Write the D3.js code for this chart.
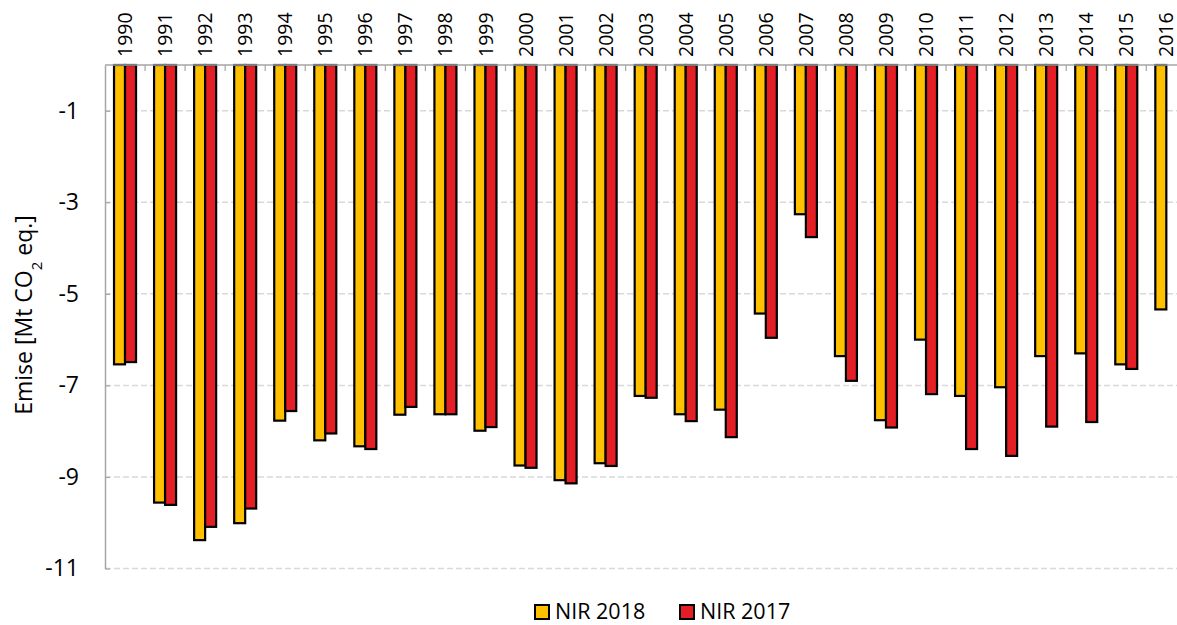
<!DOCTYPE html>
<html>
<head>
<meta charset="utf-8">
<script src="https://cdn.jsdelivr.net/npm/d3@7"></script>
<style>
  body { margin: 0; background: #fff; }
  svg { display: block; }
  text { font-family: "Open Sans", sans-serif; fill: #000; }
</style>
</head>
<body>
<svg id="chart" width="1177" height="625"></svg>
<script>
// Net emissions per year, two inventory submissions (Mt CO2 eq.)
const years = ["1990", "1991", "1992", "1993", "1994", "1995", "1996", "1997", "1998",
  "1999", "2000", "2001", "2002", "2003", "2004", "2005", "2006", "2007", "2008",
  "2009", "2010", "2011", "2012", "2013", "2014", "2015", "2016"];
const nir2018 = [-6.54, -9.56, -10.38, -10.01, -7.77, -8.20, -8.33, -7.64, -7.63,
  -7.99, -8.75, -9.07, -8.70, -7.23, -7.63, -7.53, -5.43, -3.26, -6.36,
  -7.76, -6.00, -7.23, -7.04, -6.36, -6.30, -6.54, -5.34];
const nir2017 = [-6.49, -9.61, -10.09, -9.69, -7.56, -8.05, -8.39, -7.47, -7.63,
  -7.91, -8.80, -9.14, -8.76, -7.27, -7.78, -8.13, -5.96, -3.76, -6.90,
  -7.92, -7.19, -8.39, -8.54, -7.90, -7.80, -6.64, null];
const seriesNames = ["NIR 2018", "NIR 2017"];
const seriesColors = ["#FFC000", "#E31E24"];
const yTicks = [-1, -3, -5, -7, -9, -11];

const svg = d3.select("#chart");
const W = 1177;
const left = 105, step = 40.05;

const x0 = d3.scaleBand()
  .domain(years)
  .range([left, left + step * years.length])
  .padding(0);
const barW = 11;
const x1 = d3.scaleBand()
  .domain(seriesNames)
  .range([x0.bandwidth() / 2 - barW, x0.bandwidth() / 2 + barW])
  .padding(0);
const y = d3.scaleLinear().domain([-11, 0]).range([568.5, 65]);
const color = d3.scaleOrdinal().domain(seriesNames).range(seriesColors);

// dashed horizontal gridlines
svg.append("g")
  .selectAll("line")
  .data(yTicks)
  .join("line")
  .attr("x1", left).attr("x2", W)
  .attr("y1", d => y(d)).attr("y2", d => y(d))
  .attr("stroke", "#d9d9d9")
  .attr("stroke-width", 1.5)
  .attr("stroke-dasharray", "6,3");

// value axis
const yAxis = svg.append("g")
  .attr("transform", `translate(${left},0)`)
  .call(d3.axisLeft(y).tickValues(yTicks).tickFormat(d => String(d))
    .tickSizeInner(-5).tickSizeOuter(0).tickPadding(26));
yAxis.select(".domain").attr("stroke", "#a6a6a6").attr("stroke-width", 1.5);
yAxis.selectAll(".tick line").attr("stroke", "#a6a6a6").attr("stroke-width", 1.2);
yAxis.selectAll(".tick text")
  .style("font-family", "'Open Sans', sans-serif")
  .style("font-size", "23px")
  .attr("fill", "#000");

// bars
const rows = years.map((yr, i) => ({ year: yr, values: [
  { key: seriesNames[0], value: nir2018[i] },
  { key: seriesNames[1], value: nir2017[i] }
].filter(v => v.value !== null) }));

svg.append("g")
  .selectAll("g")
  .data(rows)
  .join("g")
  .attr("transform", d => `translate(${x0(d.year)},0)`)
  .selectAll("rect")
  .data(d => d.values)
  .join("rect")
  .attr("x", d => x1(d.key))
  .attr("width", x1.bandwidth())
  .attr("y", y(0))
  .attr("height", d => y(d.value) - y(0))
  .attr("fill", d => color(d.key))
  .attr("stroke", "#000")
  .attr("stroke-width", 2.2);

// category axis along zero, ticks between groups
const catAxis = svg.append("g");
catAxis.append("line")
  .attr("x1", left).attr("x2", W)
  .attr("y1", y(0)).attr("y2", y(0))
  .attr("stroke", "#a6a6a6").attr("stroke-width", 1.5);
catAxis.selectAll("line.sep")
  .data(years.slice(1))
  .join("line")
  .attr("class", "sep")
  .attr("x1", d => x0(d)).attr("x2", d => x0(d))
  .attr("y1", y(0)).attr("y2", y(0) + 6)
  .attr("stroke", "#a6a6a6").attr("stroke-width", 1.2);
catAxis.selectAll("text")
  .data(years)
  .join("text")
  .attr("transform", d => `translate(${x0(d) + x0.bandwidth() / 2},${y(0) - 8}) rotate(-90)`)
  .attr("dy", "0.36em")
  .attr("text-anchor", "start")
  .style("font-size", "19.5px")
  .text(d => d);

// axis title
const title = svg.append("text")
  .attr("transform", `translate(32,315) rotate(-90)`)
  .attr("text-anchor", "middle")
  .style("font-size", "23px");
title.append("tspan").text("Emise [Mt CO");
title.append("tspan").attr("baseline-shift", "sub").style("font-size", "15px").text("2");
title.append("tspan").text(" eq.]");

// legend
const legendX = [535, 680];
const legend = svg.append("g")
  .selectAll("g")
  .data(seriesNames)
  .join("g")
  .attr("transform", (d, i) => `translate(${legendX[i]},605)`);
legend.append("rect")
  .attr("width", 14).attr("height", 14)
  .attr("fill", d => color(d))
  .attr("stroke", "#000").attr("stroke-width", 2);
legend.append("text")
  .attr("x", 20).attr("y", 14)
  .style("font-size", "21.5px")
  .text(d => d);
</script>
</body>
</html>
